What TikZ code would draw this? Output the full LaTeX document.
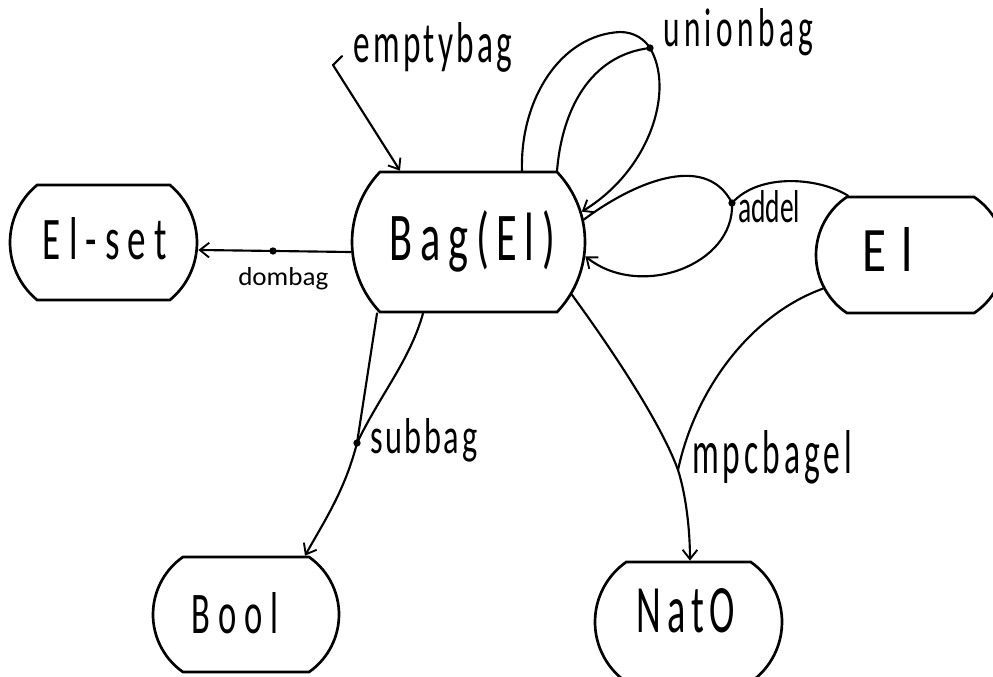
\documentclass[tikz,border=0pt]{standalone}
\usepackage{fontspec}
\usepackage{graphicx}
\setmainfont{Carlito}
\usetikzlibrary{shapes.misc,arrows.meta}

% text scaled to a given width and height above the baseline
\newcommand\handtext[3]{\resizebox{#1}{#2}{#3}}
% tracked lettering
\newcommand\spaced[2]{{\addfontfeature{LetterSpace=#1}#2}}
% shift text sideways inside its node without changing the box width
\newcommand\nudge[2]{\hspace*{#1}#2\hspace*{-#1}}

\tikzset{
  sortbox/.style={rounded rectangle, draw, line width=2pt, inner sep=0pt,
    text depth=0pt},
  conn/.style={line width=1.6pt, line cap=round},
  arr/.style={-{Straight Barb[length=7pt,width=11pt,line width=1.4pt]}},
  opdot/.style={circle, fill, inner sep=0pt, minimum size=5.5pt},
  oplabel/.style={anchor=base west, inner sep=0pt},
}

\begin{document}
\begin{tikzpicture}[x=0.75pt, y=-0.75pt]
\useasboundingbox (0,0) rectangle (993,676);

% sorts
\node[sortbox, minimum width=140.25pt, minimum height=86.25pt,
      rounded rectangle arc length=101, text height=24.75pt]
  (elset) at (103.5,242.5) {\nudge{1pt}{\handtext{93pt}{31.5pt}{\spaced{22}{El-set}}}};
\node[sortbox, minimum width=174.75pt, minimum height=105pt,
      rounded rectangle arc length=87, text height=27pt]
  (bag) at (468.5,242) {\nudge{3pt}{\handtext{123.75pt}{37.5pt}{\spaced{18}{Bag(El)}}}};
\node[sortbox, minimum width=141.75pt, minimum height=87pt,
      rounded rectangle arc length=112, text height=24pt]
  (el) at (910.5,255) {\nudge{-16.9pt}{\handtext{37.5pt}{33pt}{\spaced{30}{El}}}};
\node[sortbox, minimum width=139.5pt, minimum height=86.25pt,
      rounded rectangle arc length=110, text height=27.75pt]
  (bool) at (246,614.5) {\nudge{-8.25pt}{\handtext{64.5pt}{30.75pt}{\spaced{22}{Bool}}}};
\node[sortbox, minimum width=140.25pt, minimum height=90pt,
      rounded rectangle arc length=110, text height=15pt]
  (nat) at (688.5,622) {\nudge{-1.9pt}{\handtext{73.5pt}{33pt}{\spaced{15}{NatO}}}};

% operation points
\coordinate (ebsrc) at (333,65);
\node[opdot] (uniondot) at (650,48) {};
\node[opdot] (addeldot) at (732,203) {};
\node[opdot] (subbagdot) at (357,443) {};
\coordinate (mpcjoin) at (678,470);

% emptybag
\draw[conn, arr] (ebsrc) -- ([xshift=-51.4pt]bag.north);
\draw[conn] (ebsrc) -- ++(9,-9);

% dombag
\draw[conn, arr] ([yshift=-7.5pt]bag.west)
  -- node[opdot, pos=0.51] (dombagdot) {} ([yshift=-5.6pt]elset.east);

% unionbag
\draw[conn] ([xshift=40.1pt]bag.north) .. controls (520,100) and (560,35) .. (620,32)
  .. controls (635,32) and (645,40) .. (uniondot.center);
\draw[conn] ([xshift=66.4pt]bag.north) .. controls (562,110) and (590,55) .. (uniondot.center);
\draw[conn, arr] (uniondot.center) .. controls (675,90) and (650,170) .. (bag.15);

% addel
\draw[conn] ([xshift=-46.9pt]el.north) .. controls (820,178) and (760,172) .. (addeldot.center);
\draw[conn] (bag.11) .. controls (630,185) and (705,150) .. (addeldot.center);
\draw[conn, arr] (addeldot.center) .. controls (735,265) and (640,300) .. (bag.-7);

% subbag
\draw[conn] ([xshift=-68.6pt]bag.south) -- (subbagdot.center);
\draw[conn] ([xshift=-34.1pt]bag.south) .. controls (410,360) and (380,395) .. (subbagdot.center);
\draw[conn, arr] (subbagdot.center) .. controls (345,490) and (325,520) .. ([xshift=44.25pt]bool.north);

% mpcbagel
\draw[conn] (bag.-27) .. controls (605,340) and (660,420) .. (mpcjoin);
\draw[conn] (el.201) .. controls (750,315) and (695,390) .. (mpcjoin);
\draw[conn, arr] (mpcjoin) .. controls (686,495) and (690,530) .. ([xshift=1.1pt]nat.north);

% operation names
\node[oplabel] (lblemptybag) at (353,62) {\handtext{119.25pt}{30pt}{\spaced{10}{emptybag}}};
\node[oplabel] (lblunionbag) at (663,46) {\handtext{112.5pt}{28.5pt}{\spaced{14}{unionbag}}};
\node[oplabel] (lbldombag) at (238,285) {\handtext{67.5pt}{13.5pt}{dombag}};
\node[oplabel] (lbladdel) at (738,222) {\handtext{46.5pt}{24pt}{addel}};
\node[oplabel] (lblsubbag) at (370,453) {\handtext{80.25pt}{26.25pt}{\spaced{8}{subbag}}};
\node[oplabel] (lblmpcbagel) at (692,473) {\handtext{120pt}{32.25pt}{\spaced{12}{mpcbagel}}};
\end{tikzpicture}
\end{document}
